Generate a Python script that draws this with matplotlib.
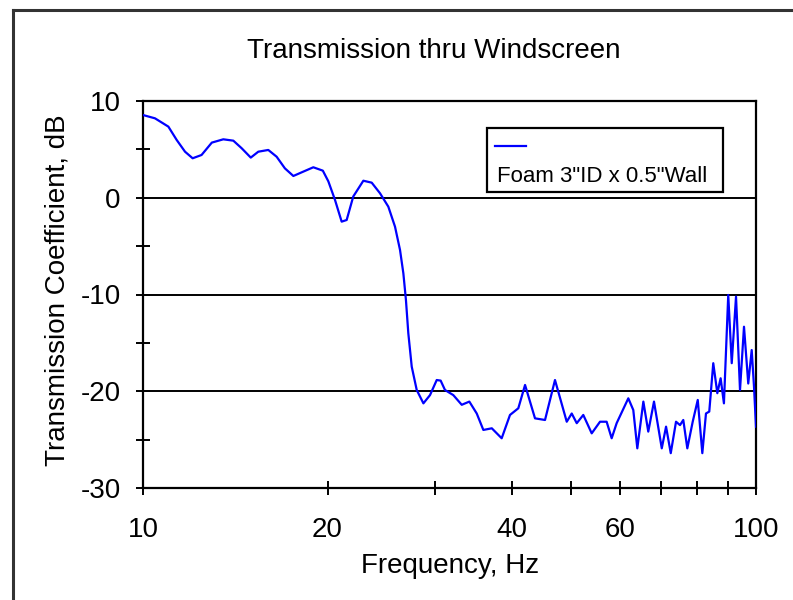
import numpy as np
import matplotlib
matplotlib.use("Agg")
import matplotlib.pyplot as plt
from matplotlib.patches import Rectangle
from matplotlib.lines import Line2D
from matplotlib.ticker import FixedLocator, NullFormatter

plt.rcParams['font.family'] = ['Liberation Sans', 'DejaVu Sans']
plt.rcParams['axes.unicode_minus'] = False

# ------------------------------------------
# Data (frequency in Hz, transmission in dB)
# ------------------------------------------
freq = [10.0, 10.46, 11.0, 11.35, 11.71, 12.05, 12.46, 12.95, 13.52, 14.04,
        14.49, 14.99, 15.42, 16.01, 16.52, 17.04, 17.59, 18.26, 18.96, 19.65,
        20.06, 20.57, 21.09, 21.49, 22.03, 22.88, 23.61, 24.36, 25.13, 25.77,
        26.26, 26.59, 26.85, 27.09, 27.44, 27.96, 28.67, 29.39, 30.14, 30.59,
        31.09, 32.08, 33.11, 34.07, 35.03, 35.91, 37.07, 38.47, 39.69, 40.95,
        42.0, 43.6, 45.27, 47.0, 49.12, 50.05, 51.0, 52.27, 53.95, 55.66,
        57.06, 58.15, 59.25, 61.9, 63.07, 64.03, 65.5, 66.72, 68.17, 70.19,
        71.33, 72.6, 74.05, 75.17, 76.1, 77.26, 78.84, 80.35, 81.74, 82.87,
        83.9, 85.17, 86.48, 87.56, 88.65, 90.1, 91.29, 92.77, 94.17, 95.59,
        97.13, 98.4, 99.25, 100.0]
trans_db = [8.55, 8.21, 7.35, 5.97, 4.76, 4.08, 4.42, 5.7, 6.04, 5.9,
            5.11, 4.15, 4.76, 4.94, 4.24, 3.04, 2.25, 2.7, 3.15, 2.8,
            1.7, -0.23, -2.47, -2.3, 0.13, 1.76, 1.56, 0.46, -0.92, -2.99,
            -5.4, -7.81, -10.57, -14.0, -17.46, -19.87, -21.25, -20.4, -18.84, -18.9,
            -19.87, -20.4, -21.4, -21.07, -22.3, -24.0, -23.83, -24.86, -22.45, -21.76,
            -19.35, -22.8, -22.97, -18.84, -23.15, -22.3, -23.3, -22.45, -24.35, -23.15,
            -23.15, -24.86, -23.3, -20.73, -21.94, -25.9, -21.07, -24.17, -21.07, -25.9,
            -23.66, -26.4, -23.15, -23.5, -22.97, -25.9, -23.15, -20.9, -26.4, -22.3,
            -22.1, -17.1, -20.2, -18.66, -21.25, -10.05, -17.1, -10.22, -19.87, -13.33,
            -19.2, -15.74, -19.5, -23.66]

x_ticks = [10, 20, 30, 40, 50, 60, 70, 80, 90, 100]
x_labels = ['10', '20', '', '40', '', '60', '', '', '', '100']
y_major = [-30, -20, -10, 0, 10]
y_minor = [-25, -15, -5, 5]
grid_y = [-20, -10, 0]

# ------------------------------------------
# Figure
# ------------------------------------------
fig = plt.figure(figsize=(7.93, 6.0), dpi=100)
ax = fig.add_axes([143 / 793, 1 - 488 / 600, 613 / 793, 387 / 600])

# outer frame of the picture (left and top edges are visible)
fx, fy = 13 / 793, 1 - 10 / 600
fig.add_artist(Line2D([fx, fx], [0, fy], transform=fig.transFigure,
                      color='#333333', linewidth=2.2))
fig.add_artist(Line2D([fx, 1], [fy, fy], transform=fig.transFigure,
                      color='#333333', linewidth=2.2))

for g in grid_y:
    ax.axhline(g, color='black', linewidth=1.4, zorder=1)

ax.plot(freq, trans_db, color='#0000ff', linewidth=1.6, zorder=3)

ax.set_xscale('log')
ax.set_xlim(10, 100)
ax.set_ylim(-30, 10)

ax.xaxis.set_major_locator(FixedLocator(x_ticks))
ax.xaxis.set_minor_locator(FixedLocator([]))
ax.set_xticklabels(x_labels)
ax.xaxis.set_minor_formatter(NullFormatter())
ax.set_yticks(y_major)
ax.set_yticks(y_minor, minor=True)

ax.tick_params(axis='both', which='both', direction='inout', length=10,
               width=1.4, labelsize=20, color='black')
ax.tick_params(axis='x', pad=16)
ax.tick_params(axis='y', pad=11)
for s in ax.spines.values():
    s.set_linewidth(1.6)

# texts
fig.text(434 / 793, 1 - 51 / 600, 'Transmission thru Windscreen',
         ha='center', va='center', fontsize=20)
fig.text(450 / 793, 1 - 566 / 600, 'Frequency, Hz',
         ha='center', va='center', fontsize=20)
fig.text(58 / 793, 1 - 290 / 600, 'Transmission Coefficient, dB',
         ha='center', va='center', rotation=90, fontsize=20)

# legend box (handle above label, like the original)
ax.add_patch(Rectangle((0.561, 0.765), 0.385, 0.165, transform=ax.transAxes,
                       facecolor='white', edgecolor='black', linewidth=1.6,
                       zorder=4))
ax.plot([0.574, 0.625], [0.884, 0.884], transform=ax.transAxes,
        color='#0000ff', linewidth=1.6, zorder=5)
ax.text(0.577, 0.806, 'Foam 3"ID x 0.5"Wall', transform=ax.transAxes,
        ha='left', va='center', fontsize=16, zorder=5)

plt.savefig('out.png', dpi=100)
